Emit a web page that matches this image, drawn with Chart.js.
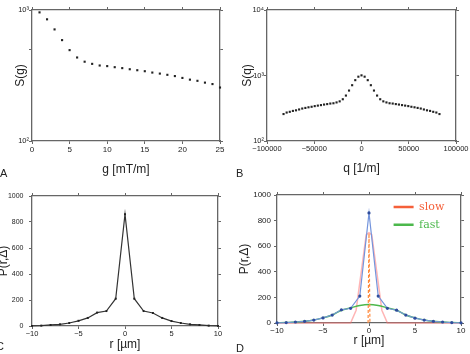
<!DOCTYPE html>
<html lang="en">
<head>
  <meta charset="UTF-8">
  <title>Signal attenuation and displacement profiles</title>
  <script src="https://cdn.jsdelivr.net/npm/chart.js@4.4.0/dist/chart.umd.min.js"></script>
  <style>
    body { margin: 0; background: #fff; }
    #fig { position: relative; width: 470px; height: 354px; overflow: hidden; font-family: "Liberation Sans", Arial, sans-serif; }
    #fig canvas { position: absolute; }
    .tag { position: absolute; font-size: 11px; line-height: 12px; color: #222; }
  </style>
</head>
<body>
<div id="fig">
  <canvas id="chartA" width="235" height="177" style="left:0;top:0"></canvas>
  <canvas id="chartB" width="235" height="177" style="left:235px;top:0"></canvas>
  <canvas id="chartC" width="235" height="177" style="left:0;top:177px"></canvas>
  <canvas id="chartD" width="235" height="177" style="left:235px;top:177px"></canvas>
  <div class="tag" style="left:0;top:167px">A</div>
  <div class="tag" style="left:236px;top:167px">B</div>
  <div class="tag" style="left:-4px;top:340px">C</div>
  <div class="tag" style="left:236px;top:342px">D</div>
</div>

<script>
  // --- panel A: S(g) against gradient strength
  const gValues = [1, 2, 3, 4, 5, 6, 7, 8, 9, 10, 11, 12, 13, 14, 15, 16, 17, 18, 19, 20, 21, 22, 23, 24, 25];
  const sgValues = [959, 849, 711, 589, 494, 434, 403, 388, 377, 373, 366, 360, 353, 347, 341, 333, 327, 320, 313, 303, 294, 288, 279, 272, 256];
  const gTicks = [0, 5, 10, 15, 20, 25];
  const sgTicks = [100, 500, 1000];

  // --- panel B: S(q), both signs of q
  const qValues = [-82500, -79200, -75900, -72600, -69300, -66000, -62700, -59400, -56100, -52800, -49500, -46200, -42900,
    -39600, -36300, -33000, -29700, -26400, -23100, -19800, -16500, -13200, -9900, -6600, -3300, 0,
    3300, 6600, 9900, 13200, 16500, 19800, 23100, 26400, 29700, 33000, 36300, 39600, 42900,
    46200, 49500, 52800, 56100, 59400, 62700, 66000, 69300, 72600, 75900, 79200, 82500];
  const sqValues = [258, 272, 279, 288, 294, 303, 313, 320, 327, 333, 341, 347, 353,
    360, 366, 373, 377, 388, 403, 434, 494, 589, 711, 849, 959, 1005,
    959, 849, 711, 589, 494, 434, 403, 388, 377, 373, 366, 360, 353,
    347, 341, 333, 327, 320, 313, 303, 294, 288, 279, 272, 258];
  const qTicks = [-100000, -50000, 0, 50000, 100000];
  const sqTicks = [100, 1000, 10000];

  // --- panels C and D: displacement profile P(r, Delta)
  const rValues = [-10, -9, -8, -7, -6, -5, -4, -3, -2, -1, 0, 1, 2, 3, 4, 5, 6, 7, 8, 9, 10];
  const pValues = [1, 3, 8, 13, 23, 40, 62, 103, 115, 210, 860, 210, 115, 100, 62, 38, 23, 13, 8, 3, 1];
  const fastValues = [1, 3, 8, 13, 23, 40, 62, 100, 118, 137, 145, 137, 118, 100, 62, 40, 23, 13, 8, 3, 1];
  const slowR = [-10, -2, -1.4, -0.3, 0, 0.3, 1.4, 2, 10];
  const slowValues = [0, 0, 100, 690, 705, 690, 100, 0, 0];
  const slowPeakR = [-0.1, 0, 0.1];
  const slowPeakValues = [0, 700, 0];
  const rTicks = [-10, -5, 0, 5, 10];
  const pTicks = [0, 200, 400, 600, 800, 1000];

  const frame = '#666';
  const ink = '#222';
  const slowColor = '#f5603a';
  const fastColor = '#4cb84c';
  const powers = { 100: '10²', 1000: '10³', 10000: '10⁴' };

  const pts = (xs, ys) => xs.map((x, i) => ({ x: x, y: ys[i] }));
  const plain = v => String(v).replace('-', '−');

  // fixed axis thickness so every plot box lands where it is in the figure
  function sized(size) {
    return scale => {
      if (scale.isHorizontal()) scale.height = size; else scale.width = size;
      scale.paddingLeft = scale.paddingRight = scale.paddingTop = scale.paddingBottom = 0;
    };
  }

  function axis(o) {
    return {
      type: o.type || 'linear',
      position: o.position,
      min: o.min,
      max: o.max,
      afterBuildTicks: s => { s.ticks = o.ticks.map(v => ({ value: v })); },
      afterFit: sized(o.size),
      border: { color: frame, width: 1.3 },
      grid: { drawOnChartArea: false, tickLength: 3, color: frame },
      ticks: {
        display: !!o.label,
        padding: o.tickPad || 0,
        color: ink,
        font: { family: 'Liberation Sans', size: o.fontSize || 8 },
        callback: o.label || (() => ''),
        maxRotation: 0,
        autoSkip: false
      },
      title: o.title
        ? { display: true, text: o.title, color: ink, font: { family: 'Liberation Sans', size: 12 }, padding: o.titlePad }
        : { display: false }
    };
  }

  function frameAxes(xo, yo) {
    return {
      x: axis(xo),
      x2: axis({ position: 'top', type: xo.type, min: xo.min, max: xo.max, ticks: xo.ticks, size: 4 }),
      y: axis(yo),
      y2: axis({ position: 'right', type: yo.type, min: yo.min, max: yo.max, ticks: yo.ticks, size: 4 })
    };
  }

  const base = {
    responsive: false,
    animation: false,
    plugins: { legend: { display: false }, tooltip: { enabled: false } }
  };

  const dots = {
    showLine: false,
    pointStyle: 'rect',
    pointRadius: 1.5,
    pointBackgroundColor: ink,
    pointBorderWidth: 0,
    clip: false
  };

  // Panel A
  new Chart(document.getElementById('chartA'), {
    type: 'line',
    data: { datasets: [Object.assign({ data: pts(gValues, sgValues) }, dots)] },
    options: Object.assign({}, base, {
      layout: { padding: { top: 6, right: 11, bottom: 0, left: 0 } },
      scales: frameAxes(
        { position: 'bottom', min: 0, max: 25, ticks: gTicks, size: 36, label: plain, tickPad: 0.5, fontSize: 8,
          title: 'g [mT/m]', titlePad: { top: 0, bottom: 0 } },
        { position: 'left', type: 'logarithmic', min: 100, max: 1000, ticks: sgTicks, size: 32,
          label: v => powers[v] || '', fontSize: 7.5, title: 'S(g)', titlePad: { top: 13.5, bottom: 0 } }
      )
    })
  });

  // Panel B
  new Chart(document.getElementById('chartB'), {
    type: 'line',
    data: { datasets: [Object.assign({ data: pts(qValues, sqValues) }, dots)] },
    options: Object.assign({}, base, {
      layout: { padding: { top: 6, right: 10, bottom: 0, left: 0 } },
      scales: frameAxes(
        { position: 'bottom', min: -100000, max: 100000, ticks: qTicks, size: 36, label: plain, tickPad: 0.5, fontSize: 7.5,
          title: 'q [1/m]', titlePad: { top: 0, bottom: 1.5 } },
        { position: 'left', type: 'logarithmic', min: 100, max: 10000, ticks: sqTicks, size: 32,
          label: v => powers[v] || '', fontSize: 7.5, title: 'S(q)', titlePad: { top: 5, bottom: 0 } }
      )
    })
  });

  // Panel C
  new Chart(document.getElementById('chartC'), {
    type: 'line',
    data: {
      datasets: [{
        data: pts(rValues, pValues),
        borderColor: '#333',
        borderWidth: 1.2,
        pointStyle: 'rect',
        pointRadius: 1.4,
        pointBackgroundColor: ink,
        pointBorderWidth: 0,
        clip: false
      }]
    },
    options: Object.assign({}, base, {
      layout: { padding: { top: 15, right: 13, bottom: 0, left: 0 } },
      scales: frameAxes(
        { position: 'bottom', min: -10, max: 10, ticks: rTicks, size: 28, label: plain, tickPad: 0.2, fontSize: 7.5,
          title: 'r [µm]', titlePad: { top: 0, bottom: 1.8 } },
        { position: 'left', min: 0, max: 1000, ticks: pTicks, size: 32, label: plain, tickPad: 5.5, fontSize: 7,
          title: 'P(r,Δ)', titlePad: { top: -3.2, bottom: 0 } }
      )
    })
  });

  // legend sits inside the plot box, upper right
  const legendInPlot = {
    id: 'legendInPlot',
    afterLayout(chart) {
      const lg = chart.legend;
      const ca = chart.chartArea;
      const w = lg.width;
      lg.left = ca.right - 74;
      lg.right = lg.left + w;
      lg.top = ca.top;
      lg.bottom = ca.bottom;
    }
  };

  // Panel D
  new Chart(document.getElementById('chartD'), {
    type: 'line',
    data: {
      datasets: [
        {
          label: 'data',
          data: pts(rValues, pValues),
          borderColor: '#7394dc',
          borderWidth: 1.2,
          pointRadius: 1.6,
          pointBackgroundColor: '#2f4d9c',
          pointBorderWidth: 0,
          clip: false,
          order: 2
        },
        {
          label: 'slow',
          data: pts(slowPeakR, slowPeakValues),
          borderColor: '#ff8a3d',
          borderWidth: 1.2,
          borderDash: [3, 2],
          pointRadius: 0,
          order: 1
        },
        {
          label: 'fast',
          data: pts(rValues, fastValues),
          borderColor: fastColor,
          borderWidth: 1.5,
          pointRadius: 0,
          tension: 0.4,
          order: 3
        },
        {
          label: 'slow envelope',
          data: pts(slowR, slowValues),
          borderColor: 'rgba(255, 120, 120, 0.55)',
          borderWidth: 1.5,
          pointRadius: 0,
          clip: false,
          order: 4
        }
      ]
    },
    options: Object.assign({}, base, {
      layout: { padding: { top: 14, right: 5, bottom: 0, left: 0 } },
      plugins: {
        tooltip: { enabled: false },
        legend: {
          display: true,
          position: 'chartArea',
          align: 'start',
          labels: {
            boxWidth: 20,
            boxHeight: 2.5,
            padding: 6.6,
            font: { family: 'DejaVu Serif', size: 11 },
            generateLabels: () => [
              { text: 'slow', fillStyle: slowColor, strokeStyle: slowColor, lineWidth: 0, fontColor: slowColor, hidden: false, datasetIndex: 1 },
              { text: 'fast', fillStyle: fastColor, strokeStyle: fastColor, lineWidth: 0, fontColor: fastColor, hidden: false, datasetIndex: 2 }
            ]
          },
          padding: 6
        }
      },
      scales: frameAxes(
        { position: 'bottom', min: -10, max: 10, ticks: rTicks, size: 31, label: plain, tickPad: 0.2, fontSize: 8,
          title: 'r [µm]', titlePad: { top: 0, bottom: 5.8 } },
        { position: 'left', min: 0, max: 1000, ticks: pTicks, size: 42, label: plain, tickPad: 3, fontSize: 8,
          title: 'P(r,Δ)', titlePad: { top: 2.8, bottom: 0 } }
      )
    }),
    plugins: [legendInPlot]
  });
</script>
</body>
</html>
